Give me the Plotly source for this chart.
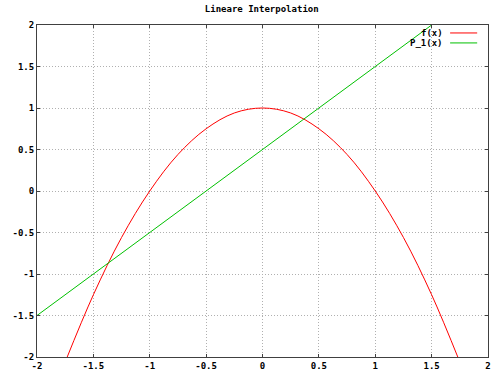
import plotly.graph_objects as go

# f(x) samples
fx_x = [-1.75, -1.5, -1.25, -1.0, -0.75, -0.5, -0.25, 0.0, 0.25, 0.5, 0.75, 1.0, 1.25, 1.5, 1.75]
fx_y = [-2.06, -1.25, -0.56, 0.0, 0.44, 0.75, 0.94, 1.0, 0.94, 0.75, 0.44, 0.0, -0.56, -1.25, -2.06]

# P_1(x) line endpoints
p1_x = [-2.0, 1.5]
p1_y = [-1.5, 2.0]

x_ticks = [-2, -1.5, -1, -0.5, 0, 0.5, 1, 1.5, 2]
x_labels = ["-2", "-1.5", "-1", "-0.5", "0", "0.5", "1", "1.5", "2"]
y_ticks = [-2, -1.5, -1, -0.5, 0, 0.5, 1, 1.5, 2]
y_labels = ["-2", "-1.5", "-1", "-0.5", "0", "0.5", "1", "1.5", "2"]

title = "Lineare Interpolation"
names = ["f(x)", "P_1(x)"]
colors = ["#ff0000", "#00c000"]

FAM = "DejaVu Sans Mono"

fig = go.Figure()
fig.add_trace(go.Scatter(x=fx_x, y=fx_y, mode="lines", name=names[0],
                         line=dict(color=colors[0], width=1, shape="spline", smoothing=1.0)))
fig.add_trace(go.Scatter(x=p1_x, y=p1_y, mode="lines", name=names[1],
                         line=dict(color=colors[1], width=1)))

axis_common = dict(
    showgrid=True, gridcolor="#b0b0b0", griddash="1px,2px", gridwidth=1,
    zeroline=False, showline=True, linecolor="#404040", linewidth=1, mirror="ticks",
    ticks="inside", ticklen=3, tickcolor="#404040", automargin=False,
    tickfont=dict(family=FAM, size=9, color="#000000", weight="bold"),
)

fig.update_xaxes(range=[-2, 2], tickvals=x_ticks, ticktext=x_labels, **axis_common)
fig.update_yaxes(range=[-2, 2], tickvals=y_ticks, ticktext=y_labels, **axis_common)

# legend drawn gnuplot-style: right-aligned text followed by line sample
for i, (n, c) in enumerate(zip(names, colors)):
    yy = 0.976 - i * 0.030
    fig.add_annotation(x=0.905, y=yy, xref="paper", yref="paper", text="<b>" + n + "</b>",
                       showarrow=False, xanchor="right", yanchor="middle",
                       font=dict(family=FAM, size=9, color="#000000"))
    fig.add_shape(type="line", xref="paper", yref="paper", x0=0.916, x1=0.976, y0=yy, y1=yy,
                  line=dict(color=c, width=1))

fig.update_layout(
    width=492, height=373,
    margin=dict(l=37, r=4, t=25, b=16),
    paper_bgcolor="#ffffff", plot_bgcolor="#ffffff",
    showlegend=False,
    title=dict(text="<b>" + title + "</b>", x=0.532, xanchor="center", y=0.975, yanchor="middle",
               font=dict(family=FAM, size=9, color="#000000")),
    font=dict(family=FAM, size=9, color="#000000"),
)

fig.write_html("out.html")
